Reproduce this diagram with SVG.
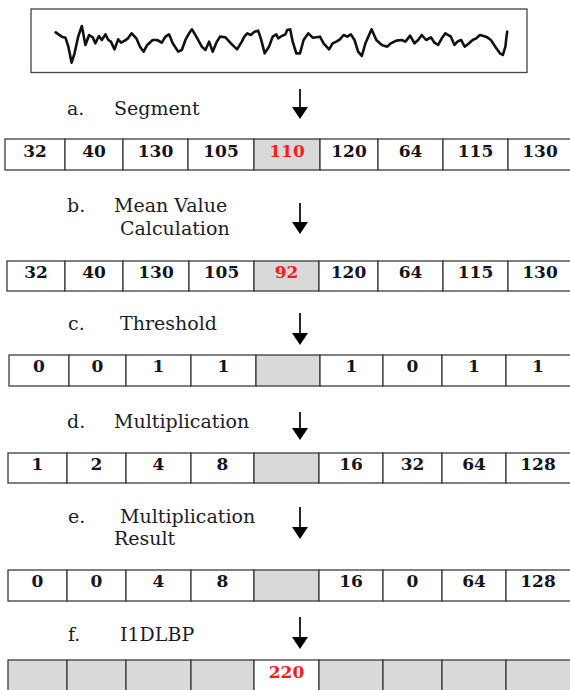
<svg xmlns="http://www.w3.org/2000/svg" width="570" height="690" viewBox="0 0 570 690">
<style>
.lbl{font-family:"DejaVu Serif","Liberation Serif",serif;font-size:19px;fill:#1c1c28}
.num{font-family:"DejaVu Serif","Liberation Serif",serif;font-size:17px;font-weight:bold;fill:#141420;text-anchor:middle}
.red{fill:#ff1a1a}
.c{fill:#ffffff;stroke:#3c3c3c;stroke-width:1.3}
.g{fill:#d9d9d9;stroke:#3c3c3c;stroke-width:1.3}
.arr{stroke:#000;stroke-width:1.7;fill:none}
</style>
<defs>
<marker id="ah" markerUnits="userSpaceOnUse" markerWidth="12" markerHeight="16" refX="0" refY="8" orient="auto" viewBox="0 0 12 16">
<path d="M0,0 L12,8 L0,16 z" fill="#000"/>
</marker>
</defs>
<rect width="570" height="690" fill="#fff"/>
<g id="signal">
<rect x="31" y="9" width="496" height="63.5" fill="#fff" stroke="#444" stroke-width="1.3"/>
<polyline transform="scale(0.3636,0.3333)" vector-effect="non-scaling-stroke" fill="none" stroke="#111" stroke-width="2.6" stroke-linejoin="round" stroke-linecap="round" points="153,97 170,110 180,113 188,140 197,188 205,160 215,110 225,78 235,135 245,105 255,112 262,130 272,108 280,120 290,103 298,120 305,125 315,148 325,118 333,128 343,122 352,115 362,100 375,115 385,140 395,155 405,135 420,120 432,120 445,128 455,110 465,103 475,130 490,155 500,150 510,120 520,100 528,88 540,110 555,140 565,150 575,125 585,155 595,128 605,110 620,112 635,130 652,148 665,125 672,110 680,100 690,105 700,95 710,92 718,118 728,160 740,140 750,110 760,103 765,115 775,108 785,103 790,90 798,88 805,125 815,160 825,160 835,120 848,100 860,113 870,112 880,110 890,130 905,148 915,130 925,125 935,118 945,105 955,110 965,103 975,120 985,155 995,168 1005,130 1015,105 1022,88 1035,120 1050,135 1065,140 1075,130 1090,122 1105,120 1115,125 1128,107 1140,130 1150,120 1160,105 1172,120 1185,112 1195,128 1205,135 1215,115 1225,100 1240,110 1250,135 1258,125 1268,120 1278,140 1290,130 1300,120 1310,115 1320,105 1330,108 1340,112 1350,120 1365,145 1375,160 1383,165 1390,140 1393,110 1395,95"/>
</g>
<g id="connectors">
<line class="arr" x1="300" y1="89" x2="300" y2="107" marker-end="url(#ah)"/>
<line class="arr" x1="300" y1="203" x2="300" y2="222" marker-end="url(#ah)"/>
<line class="arr" x1="300" y1="313" x2="300" y2="333" marker-end="url(#ah)"/>
<line class="arr" x1="300" y1="412" x2="300" y2="428" marker-end="url(#ah)"/>
<line class="arr" x1="300" y1="507" x2="300" y2="527" marker-end="url(#ah)"/>
<line class="arr" x1="300" y1="617" x2="300" y2="637" marker-end="url(#ah)"/>
</g>
<g id="label-a">
<text class="lbl" x="67" y="115">a.</text>
<text class="lbl" x="114" y="115">Segment</text>
</g>
<g id="row-a">
<rect class="c" x="5" y="139" width="60" height="31"/>
<rect class="c" x="65" y="139" width="58" height="31"/>
<rect class="c" x="123" y="139" width="65" height="31"/>
<rect class="c" x="188" y="139" width="66" height="31"/>
<rect class="g" x="254" y="139" width="66" height="31"/>
<rect class="c" x="320" y="139" width="58" height="31"/>
<rect class="c" x="378" y="139" width="65" height="31"/>
<rect class="c" x="443" y="139" width="65" height="31"/>
<rect class="c" x="508" y="139" width="64" height="31"/>
<text class="num" x="35" y="157">32</text>
<text class="num" x="94" y="157">40</text>
<text class="num" x="155.5" y="157">130</text>
<text class="num" x="221" y="157">105</text>
<text class="num red" x="287" y="157">110</text>
<text class="num" x="349" y="157">120</text>
<text class="num" x="410.5" y="157">64</text>
<text class="num" x="475.5" y="157">115</text>
<text class="num" x="540" y="157">130</text>
</g>
<g id="label-b">
<text class="lbl" x="67" y="212">b.</text>
<text class="lbl" x="114" y="212">Mean Value</text>
<text class="lbl" x="120" y="235">Calculation</text>
</g>
<g id="row-b">
<rect class="c" x="7" y="261" width="58" height="30"/>
<rect class="c" x="65" y="261" width="58" height="30"/>
<rect class="c" x="123" y="261" width="66" height="30"/>
<rect class="c" x="189" y="261" width="65" height="30"/>
<rect class="g" x="254" y="261" width="65" height="30"/>
<rect class="c" x="319" y="261" width="59" height="30"/>
<rect class="c" x="378" y="261" width="65" height="30"/>
<rect class="c" x="443" y="261" width="65" height="30"/>
<rect class="c" x="508" y="261" width="64" height="30"/>
<text class="num" x="36" y="278">32</text>
<text class="num" x="94" y="278">40</text>
<text class="num" x="156" y="278">130</text>
<text class="num" x="221.5" y="278">105</text>
<text class="num red" x="286.5" y="278">92</text>
<text class="num" x="348.5" y="278">120</text>
<text class="num" x="410.5" y="278">64</text>
<text class="num" x="475.5" y="278">115</text>
<text class="num" x="540" y="278">130</text>
</g>
<g id="label-c">
<text class="lbl" x="68" y="330">c.</text>
<text class="lbl" x="120" y="330">Threshold</text>
</g>
<g id="row-c">
<rect class="c" x="9" y="355" width="60" height="31"/>
<rect class="c" x="69" y="355" width="57" height="31"/>
<rect class="c" x="126" y="355" width="65" height="31"/>
<rect class="c" x="191" y="355" width="65" height="31"/>
<rect class="g" x="256" y="355" width="64" height="31"/>
<rect class="c" x="320" y="355" width="63" height="31"/>
<rect class="c" x="383" y="355" width="59" height="31"/>
<rect class="c" x="442" y="355" width="64" height="31"/>
<rect class="c" x="506" y="355" width="66" height="31"/>
<text class="num" x="39" y="372">0</text>
<text class="num" x="97.5" y="372">0</text>
<text class="num" x="158.5" y="372">1</text>
<text class="num" x="223.5" y="372">1</text>
<text class="num" x="351.5" y="372">1</text>
<text class="num" x="412.5" y="372">0</text>
<text class="num" x="474" y="372">1</text>
<text class="num" x="538" y="372">1</text>
</g>
<g id="label-d">
<text class="lbl" x="67" y="428">d.</text>
<text class="lbl" x="114" y="428">Multiplication</text>
</g>
<g id="row-d">
<rect class="c" x="8" y="453" width="59" height="30"/>
<rect class="c" x="67" y="453" width="59" height="30"/>
<rect class="c" x="126" y="453" width="65" height="30"/>
<rect class="c" x="191" y="453" width="63" height="30"/>
<rect class="g" x="254" y="453" width="65" height="30"/>
<rect class="c" x="319" y="453" width="64" height="30"/>
<rect class="c" x="383" y="453" width="59" height="30"/>
<rect class="c" x="442" y="453" width="64" height="30"/>
<rect class="c" x="506" y="453" width="66" height="30"/>
<text class="num" x="37.5" y="470">1</text>
<text class="num" x="96.5" y="470">2</text>
<text class="num" x="158.5" y="470">4</text>
<text class="num" x="222.5" y="470">8</text>
<text class="num" x="351" y="470">16</text>
<text class="num" x="412.5" y="470">32</text>
<text class="num" x="474" y="470">64</text>
<text class="num" x="538" y="470">128</text>
</g>
<g id="label-e">
<text class="lbl" x="68" y="523">e.</text>
<text class="lbl" x="120" y="523">Multiplication</text>
<text class="lbl" x="114" y="545">Result</text>
</g>
<g id="row-e">
<rect class="c" x="8" y="570" width="59" height="31"/>
<rect class="c" x="67" y="570" width="59" height="31"/>
<rect class="c" x="126" y="570" width="65" height="31"/>
<rect class="c" x="191" y="570" width="63" height="31"/>
<rect class="g" x="254" y="570" width="65" height="31"/>
<rect class="c" x="319" y="570" width="64" height="31"/>
<rect class="c" x="383" y="570" width="59" height="31"/>
<rect class="c" x="442" y="570" width="64" height="31"/>
<rect class="c" x="506" y="570" width="66" height="31"/>
<text class="num" x="37.5" y="587">0</text>
<text class="num" x="96.5" y="587">0</text>
<text class="num" x="158.5" y="587">4</text>
<text class="num" x="222.5" y="587">8</text>
<text class="num" x="351" y="587">16</text>
<text class="num" x="412.5" y="587">0</text>
<text class="num" x="474" y="587">64</text>
<text class="num" x="538" y="587">128</text>
</g>
<g id="label-f">
<text class="lbl" x="68" y="641">f.</text>
<text class="lbl" x="120" y="641">I1DLBP</text>
</g>
<g id="row-f">
<rect class="g" x="8" y="660" width="59" height="32"/>
<rect class="g" x="67" y="660" width="59" height="32"/>
<rect class="g" x="126" y="660" width="65" height="32"/>
<rect class="g" x="191" y="660" width="63" height="32"/>
<rect class="c" x="254" y="660" width="65" height="32"/>
<rect class="g" x="319" y="660" width="64" height="32"/>
<rect class="g" x="383" y="660" width="59" height="32"/>
<rect class="g" x="442" y="660" width="64" height="32"/>
<rect class="g" x="506" y="660" width="66" height="32"/>
<text class="num red" x="286.5" y="678">220</text>
</g>
</svg>
